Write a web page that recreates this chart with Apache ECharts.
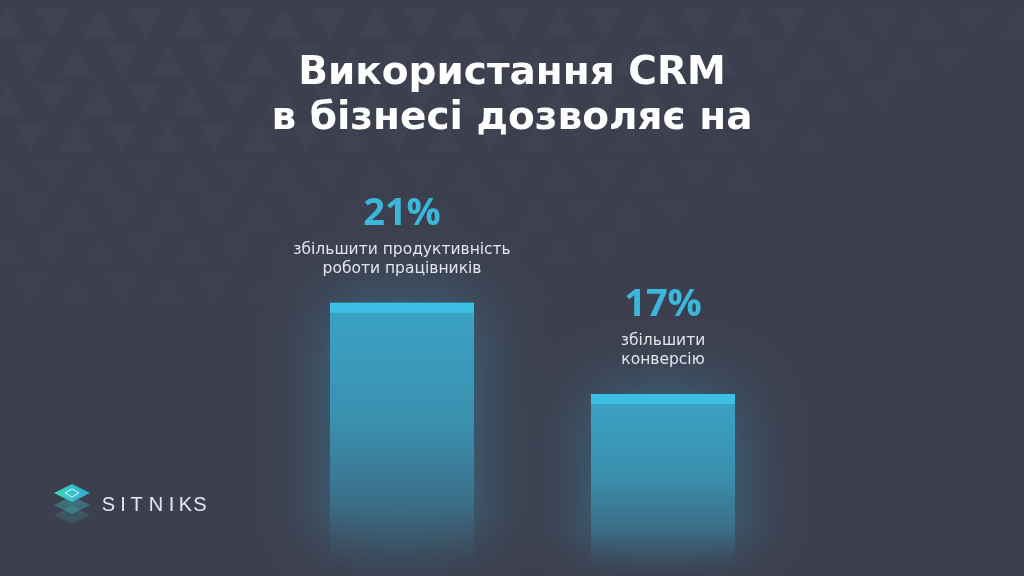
<!DOCTYPE html>
<html>
<head>
<meta charset="utf-8">
<script src="https://cdn.jsdelivr.net/npm/echarts@6/dist/echarts.min.js"></script>
<style>
html,body{margin:0;padding:0;background:#3c3f4e;}
#c{width:1024px;height:576px;}
</style>
</head>
<body>
<div id="c"></div>
<script>
var categories = ['productivity', 'conversion'];
var values = [21, 17];
var valueLabels = ['21%', '17%'];
var descriptions = [
  ['збільшити продуктивність', 'роботи працівників'],
  ['збільшити', 'конверсію']
];
var titleLines = ['Використання CRM', 'в бізнесі дозволяє на'];
var brand = 'SITNIKS';

var chart = echarts.init(document.getElementById('c'));

var bodyGradient = new echarts.graphic.LinearGradient(0, 0, 0, 1, [
  {offset: 0, color: '#3aa4c5'},
  {offset: 0.45, color: '#3a8fae'},
  {offset: 0.75, color: '#3b6c86'},
  {offset: 1, color: 'rgba(60,63,78,0.2)'}
]);

// decorative background triangles (texture only)
var bg = [];
var step = 46;
for (var r = 0; r < 9; r++) {
  for (var c = 0; c < 24; c++) {
    var cx = c * step + (r % 2) * step / 2 - 10;
    var cy = r * 38 + 8;
    var a = Math.max(0, 0.022 - r * 0.0022 - Math.max(0, cx - 500) * 0.00003);
    if (a <= 0.003) continue;
    var up = (r + c) % 2 === 0;
    var pts = up ? [[cx, cy + 30], [cx + 17, cy], [cx + 34, cy + 30]]
                 : [[cx, cy], [cx + 34, cy], [cx + 17, cy + 30]];
    bg.push({type: 'polygon', silent: true, z: -10, shape: {points: pts},
      style: {fill: 'rgba(255,255,255,' + a.toFixed(3) + ')'}});
  }
}

var brandX = [108.5, 123, 136.5, 156, 171.5, 185.5, 200];
var brandChars = brand.split('').map(function (ch, i) {
  return {type: 'text', x: brandX[i], y: 505, silent: true,
    style: {text: ch, fill: '#e6e7ee', font: '20px "Liberation Sans"', align: 'center', verticalAlign: 'middle'}};
});

var option = {
  backgroundColor: '#3c3f4e',
  title: {
    text: titleLines.join('\n'),
    left: 'center',
    top: 46,
    textStyle: {
      color: '#ffffff',
      fontFamily: 'DejaVu Sans',
      fontWeight: 'bold',
      fontSize: 39,
      lineHeight: 45
    }
  },
  grid: {left: 271.5, right: 230.5, top: 98, bottom: 0},
  xAxis: {
    type: 'category',
    data: categories,
    show: false
  },
  yAxis: {
    type: 'value',
    min: 9,
    max: 30,
    show: false
  },
  series: [
    {
      type: 'bar',
      data: values,
      barWidth: 144,
      z: 2,
      itemStyle: {
        color: bodyGradient,
        shadowBlur: 70,
        shadowColor: 'rgba(58,175,215,0.4)'
      },
      label: {
        show: true,
        position: 'top',
        distance: 24,
        formatter: function (p) {
          var d = descriptions[p.dataIndex];
          return '{v|' + valueLabels[p.dataIndex] + '}\n' + d.map(function (t) { return '{t|' + t + '}'; }).join('\n');
        },
        rich: {
          v: {
            color: '#3bb7dc',
            fontFamily: 'Open Sans',
            fontWeight: 'bold',
            fontSize: 38,
            lineHeight: 54
          },
          t: {
            color: '#e3e5ec',
            fontFamily: 'DejaVu Sans',
            fontSize: 15.5,
            lineHeight: 19
          }
        }
      }
    },
    {
      type: 'pictorialBar',
      data: values,
      symbol: 'rect',
      symbolSize: [144, 10],
      symbolPosition: 'end',
      symbolOffset: [0, 0],
      z: 3,
      silent: true,
      itemStyle: {color: '#3cbfe4'}
    }
  ],
  graphic: bg.concat([
    {
      type: 'group',
      left: 54,
      top: 484,
      children: [
        {type: 'polygon', shape: {points: [[18, 22], [36, 31], [18, 40], [0, 31]]},
          style: {fill: 'rgba(60,190,200,0.18)'}},
        {type: 'polygon', shape: {points: [[18, 12], [36, 21], [18, 30], [0, 21]]},
          style: {fill: 'rgba(60,200,200,0.35)'}},
        {type: 'polygon', shape: {points: [[18, 0], [36, 9], [18, 18], [0, 9]]},
          style: {fill: new echarts.graphic.LinearGradient(0, 0, 1, 0, [
            {offset: 0, color: '#3ed7c0'}, {offset: 1, color: '#2fa9d6'}])}},
        {type: 'polygon', shape: {points: [[18, 5], [25, 9], [18, 13], [11, 9]]},
          style: {fill: 'none', stroke: 'rgba(255,255,255,0.8)', lineWidth: 1}}
      ]
    }
  ]).concat(brandChars)
};
chart.setOption(option);
</script>
</body>
</html>
